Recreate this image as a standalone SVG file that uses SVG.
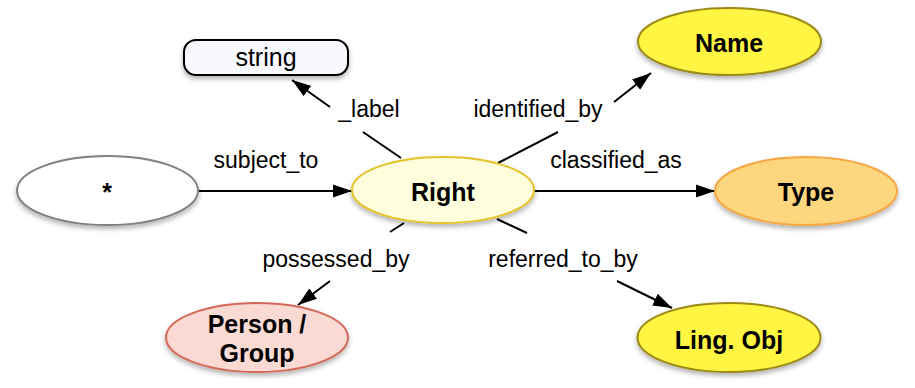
<svg xmlns="http://www.w3.org/2000/svg" width="915" height="388" viewBox="0 0 915 388">
  <style>
    .lbl { font-family: "Liberation Sans", Arial, sans-serif; font-size: 23px; fill: #000; text-anchor: middle; }
    .nt { font-family: "Liberation Sans", Arial, sans-serif; font-size: 25px; font-weight: bold; fill: #000; text-anchor: middle; }
    .st { font-family: "Liberation Sans", Arial, sans-serif; font-size: 25px; fill: #000; text-anchor: middle; }
    .edge { stroke: #000; stroke-width: 2; fill: none; }
    .node { stroke-width: 2; filter: url(#shadow); }
  </style>
  <defs>
    <filter id="shadow" x="-20%" y="-30%" width="140%" height="170%">
      <feDropShadow dx="0" dy="3" stdDeviation="2.5" flood-color="#000" flood-opacity="0.3"/>
    </filter>
    <marker id="arrow" markerUnits="userSpaceOnUse" markerWidth="20" markerHeight="14" refX="19" refY="7" orient="auto">
      <path d="M0,0.5 L19,7 L0,13.5 z" fill="#000"/>
    </marker>
  </defs>
  <rect width="915" height="388" fill="#fff"/>

  <g id="connectors">
    <line class="edge" x1="199" y1="191" x2="352" y2="191" marker-end="url(#arrow)"/>
    <line class="edge" x1="534" y1="191" x2="715" y2="191" marker-end="url(#arrow)"/>
    <line class="edge" x1="401" y1="158" x2="363" y2="132"/>
    <line class="edge" x1="330" y1="107" x2="292" y2="80" marker-end="url(#arrow)"/>
    <line class="edge" x1="498" y1="163" x2="558" y2="132"/>
    <line class="edge" x1="614" y1="102" x2="651" y2="73" marker-end="url(#arrow)"/>
    <line class="edge" x1="404" y1="223" x2="390" y2="232"/>
    <line class="edge" x1="330" y1="281" x2="298" y2="305" marker-end="url(#arrow)"/>
    <line class="edge" x1="497" y1="219" x2="527" y2="233"/>
    <line class="edge" x1="617" y1="281" x2="672" y2="308" marker-end="url(#arrow)"/>
    <text class="lbl" x="266" y="168">subject_to</text>
    <text class="lbl" x="616" y="168">classified_as</text>
    <text class="lbl" x="369" y="117">_label</text>
    <text class="lbl" x="538" y="117">identified_by</text>
    <text class="lbl" x="336" y="267">possessed_by</text>
    <text class="lbl" x="563" y="267">referred_to_by</text>
  </g>

  <g id="node-star">
    <ellipse class="node" cx="107.5" cy="190.5" rx="90.5" ry="34.5" fill="#fff" stroke="#808080"/>
    <text class="nt" x="107" y="201">*</text>
  </g>
  <g id="node-right">
    <ellipse class="node" cx="443" cy="190" rx="91" ry="33" fill="#fefedc" stroke="#e6c229"/>
    <text class="nt" x="443" y="201">Right</text>
  </g>
  <g id="node-string">
    <rect class="node" x="184" y="40" width="164" height="35" rx="12" ry="12" fill="#f8f8ff" stroke="#000"/>
    <text class="st" x="266" y="66">string</text>
  </g>
  <g id="node-name">
    <ellipse class="node" cx="729.5" cy="41.5" rx="91.5" ry="33.5" fill="#fff542" stroke="#9c8a17"/>
    <text class="nt" x="729" y="52">Name</text>
  </g>
  <g id="node-type">
    <ellipse class="node" cx="806" cy="191" rx="91" ry="34" fill="#fed67e" stroke="#f4a742"/>
    <text class="nt" x="806" y="201">Type</text>
  </g>
  <g id="node-person">
    <ellipse class="node" cx="257" cy="337.5" rx="91" ry="34.5" fill="#fcdad4" stroke="#d4695a"/>
    <text class="nt" x="257" y="333">Person /</text>
    <text class="nt" x="257" y="362">Group</text>
  </g>
  <g id="node-lingobj">
    <ellipse class="node" cx="729" cy="337.5" rx="91.5" ry="34.5" fill="#fff542" stroke="#9c8a17"/>
    <text class="nt" x="729" y="349">Ling. Obj</text>
  </g>
</svg>
